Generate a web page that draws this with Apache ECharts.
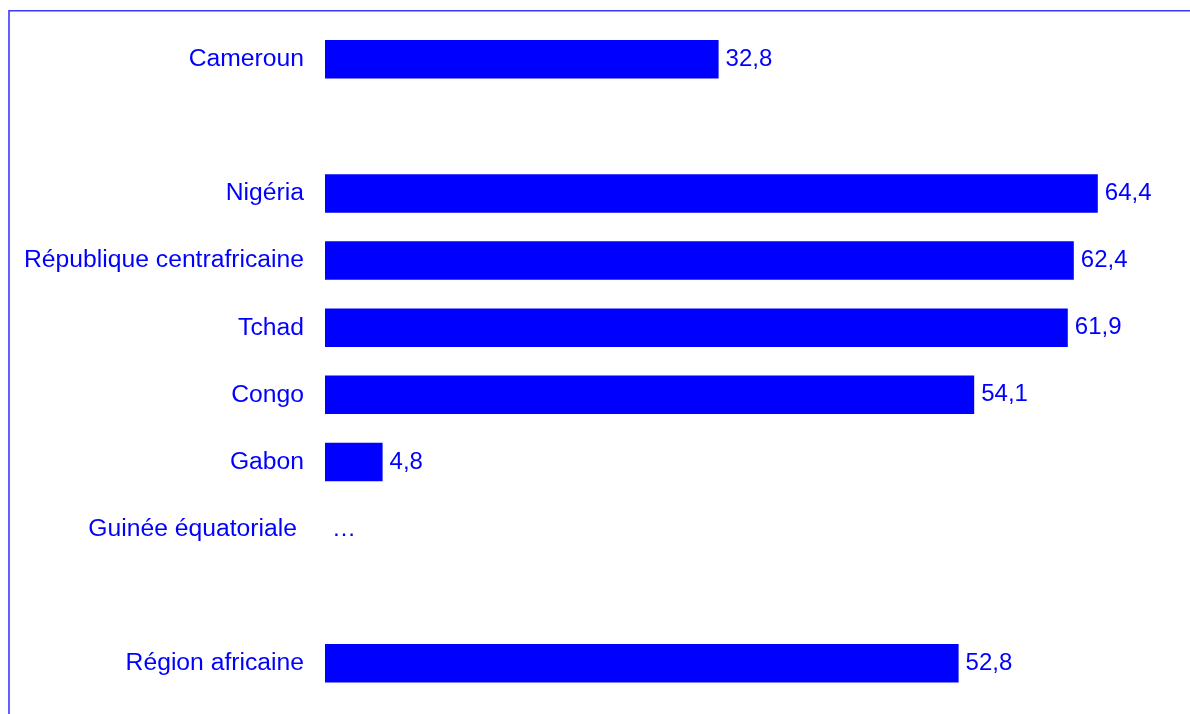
<!DOCTYPE html>
<html>
<head>
<meta charset="utf-8">
<script src="https://cdn.jsdelivr.net/npm/echarts@6/dist/echarts.min.js"></script>
<style>
html,body{margin:0;padding:0;background:#fff;}
#chart{width:1190px;height:714px;}
</style>
</head>
<body>
<div id="chart"></div>
<script>
// Categories (empty strings are blank spacer rows)
var categories = ['Cameroun', '', 'Nigéria', 'République centrafricaine', 'Tchad', 'Congo', 'Gabon', 'Guinée équatoriale', ' ', 'Région africaine'];
// Values (null = no bar; 'NA' = data not available, shown as "…")
var values = [32.8, null, 64.4, 62.4, 61.9, 54.1, 4.8, 'NA', null, 52.8];

var BLUE = '#0000ff';
var FONT = '"Liberation Sans", Arial, sans-serif';

var seriesData = values.map(function (v) {
  if (v === 'NA') return { value: 0, label: { formatter: '\u2026' } };
  return v;
});

var chart = echarts.init(document.getElementById('chart'), null, { renderer: 'canvas' });
chart.setOption({
  animation: false,
  backgroundColor: '#ffffff',
  grid: { left: 325, right: 1, top: 25.75, bottom: 17.25, containLabel: false },
  xAxis: {
    type: 'value', min: 0, max: 72,
    show: false
  },
  yAxis: {
    type: 'category',
    data: categories,
    inverse: true,
    axisLine: { show: false },
    axisTick: { show: false },
    splitLine: { show: false },
    axisLabel: {
      margin: 21,
      color: BLUE,
      fontFamily: FONT,
      fontSize: 24.7,
      formatter: function (v) {
        if (v === 'Guinée équatoriale') return '{g|' + v + '}';
        return v;
      },
      rich: { g: { color: BLUE, fontFamily: FONT, fontSize: 24.7, padding: [0, 7, 0, 0] } }
    }
  },
  series: [{
    type: 'bar',
    data: seriesData,
    barWidth: 38.5,
    itemStyle: { color: BLUE },
    label: {
      show: true,
      position: 'right',
      distance: 7,
      color: BLUE,
      fontFamily: FONT,
      fontSize: 24,
      formatter: function (p) {
        return Number(p.value).toFixed(1).replace('.', ',');
      }
    }
  }],
  graphic: [{
    type: 'polyline',
    silent: true,
    shape: { points: [[9, 720], [9, 10.8], [1195, 10.8]] },
    style: { fill: null, stroke: '#3a3aff', lineWidth: 1.6 }
  }]
});
</script>
</body>
</html>
